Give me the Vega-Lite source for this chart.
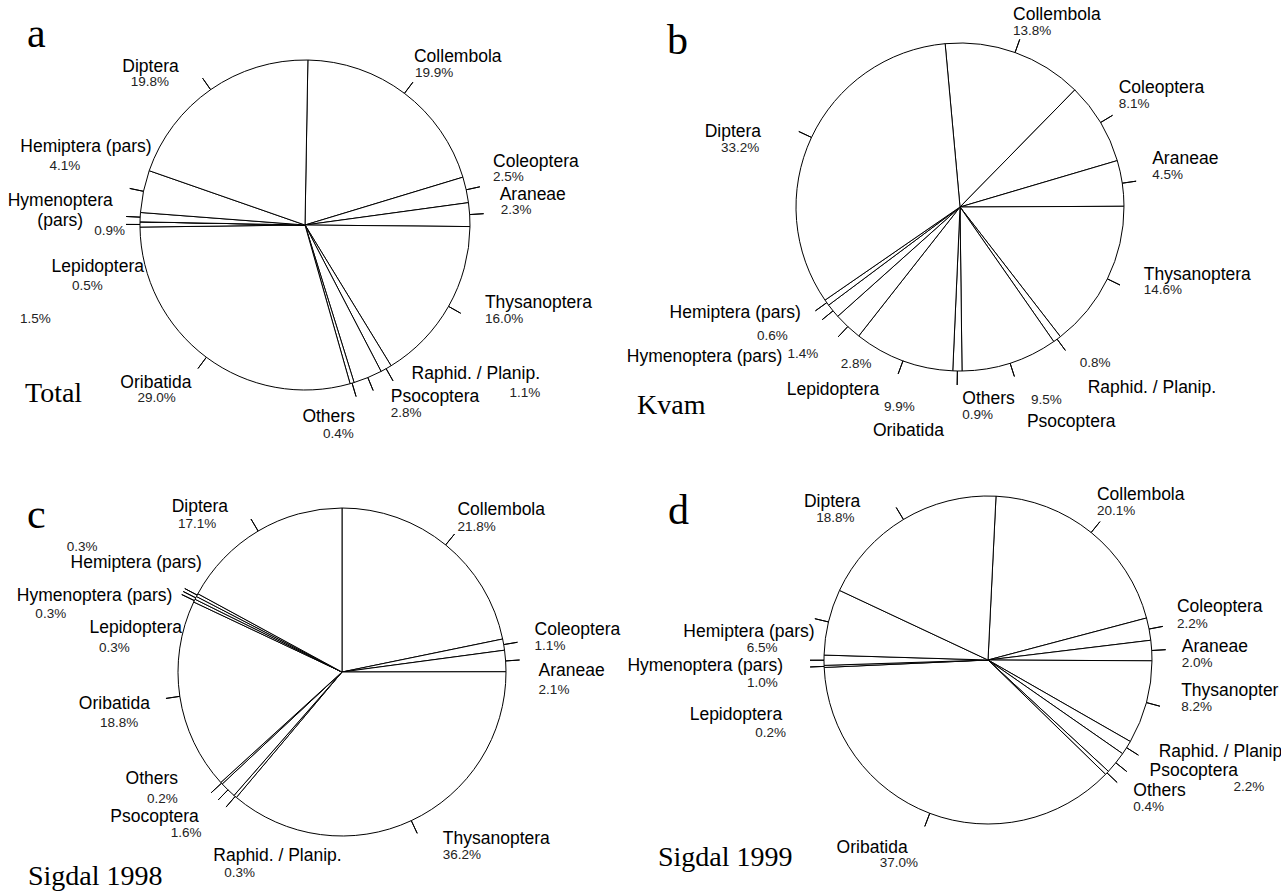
{
  "$schema": "https://vega.github.io/schema/vega-lite/v6.json",
  "padding": 0,
  "background": "white",
  "config": {"view": {"stroke": null}},
  "spacing": 2,
  "vconcat": [
    {
      "spacing": 16,
      "hconcat": [
        {
          "title": {"text": "Total", "orient": "bottom", "anchor": "start", "frame": "group", "offset": -70, "dx": 25, "font": "Liberation Serif", "fontSize": 28, "fontWeight": "normal", "color": "black"},
          "spacing": 0,
          "vconcat": [
            {
              "title": {"text": "a", "orient": "bottom", "anchor": "start", "frame": "group", "offset": -436, "dx": 27, "font": "Liberation Serif", "fontSize": 42, "fontWeight": "normal", "color": "black"},
              "width": 610,
              "height": 450,
              "data": {"values": [
                {"name": "Collembola", "value": 19.9, "pct": "19.9%", "ord": 0},
                {"name": "Coleoptera", "value": 2.5, "pct": "2.5%", "ord": 1},
                {"name": "Araneae", "value": 2.3, "pct": "2.3%", "ord": 2},
                {"name": "Thysanoptera", "value": 16.0, "pct": "16.0%", "ord": 3},
                {"name": "Raphid. / Planip.", "value": 1.1, "pct": "1.1%", "ord": 4},
                {"name": "Psocoptera", "value": 2.8, "pct": "2.8%", "ord": 5},
                {"name": "Others", "value": 0.4, "pct": "0.4%", "ord": 6},
                {"name": "Oribatida", "value": 29.0, "pct": "29.0%", "ord": 7},
                {"name": "Lepidoptera", "value": 0.5, "pct": "0.5%", "ord": 8},
                {"name": "", "value": 0, "pct": "1.5%", "ord": 9},
                {"name": "Hymenoptera (pars)", "value": 0.9, "pct": "0.9%", "ord": 10},
                {"name": "Hemiptera (pars)", "value": 4.1, "pct": "4.1%", "ord": 11},
                {"name": "Diptera", "value": 19.8, "pct": "19.8%", "ord": 12}
              ]},
              "encoding": {
                "theta": {"field": "value", "type": "quantitative", "stack": true, "scale": {"range": [0.01745, 6.30064]}},
                "order": {"field": "ord", "type": "quantitative"},
                "detail": {"field": "name", "type": "nominal"}
              },
              "layer": [
                {"mark": {"type": "arc", "outerRadius": 165, "fill": "white", "stroke": "black", "strokeWidth": 1}},
                {"mark": {"type": "arc", "outerRadius": 179, "innerRadius": 165, "padAngle": 3.14, "fill": "transparent", "stroke": "black", "strokeWidth": 1, "strokeOpacity": {"expr": "datum.name == '' ? 0 : 1"}}},
                {"mark": {"type": "text", "radius": 170, "font": "Liberation Sans", "fontSize": 17.5, "color": "black", "baseline": "alphabetic", "lineHeight": 20,
                  "lineBreak": {"expr": "datum.ord == 10 ? ' ' : '\\n'"},
                  "align": {"expr": "['left','left','left','left','left','left','right','right','right','left','center','right','right'][datum.ord]"},
                  "dx": {"expr": "[6.5,22,25,32,23,21,1.4,-12,9,0,-75,13,-29][datum.ord]"},
                  "dy": {"expr": "[-27.5,-22,-14,-1,6,20,34,27,48,0,-11,-38,-14][datum.ord]"}},
                 "encoding": {"text": {"field": "name"}}},
                {"mark": {"type": "text", "radius": 170, "font": "Liberation Sans", "fontSize": 13.5, "color": "#222", "baseline": "alphabetic", "align": "left",
                  "dx": {"expr": "[7.5,22,26,32,121,21,-30.6,-66,-63,-115,-41,-89,-77][datum.ord]"},
                  "dy": {"expr": "[-12.5,-8,0,14,24,35,50,41,66,101,18,-20,0][datum.ord]"}},
                 "encoding": {"text": {"field": "pct"}}}
              ]
            }
          ]
        },
        {
          "title": {"text": "Kvam", "orient": "bottom", "anchor": "start", "frame": "group", "offset": -48, "dx": -2, "font": "Liberation Serif", "fontSize": 28, "fontWeight": "normal", "color": "black"},
          "spacing": 0,
          "vconcat": [
            {
              "title": {"text": "b", "orient": "bottom", "anchor": "start", "frame": "group", "offset": -419, "dx": 28, "font": "Liberation Serif", "fontSize": 42, "fontWeight": "normal", "color": "black"},
              "width": 642,
              "height": 414,
              "data": {"values": [
                {"name": "Collembola", "value": 13.8, "pct": "13.8%", "ord": 0},
                {"name": "Coleoptera", "value": 8.1, "pct": "8.1%", "ord": 1},
                {"name": "Araneae", "value": 4.5, "pct": "4.5%", "ord": 2},
                {"name": "Thysanoptera", "value": 14.6, "pct": "14.6%", "ord": 3},
                {"name": "Raphid. / Planip.", "value": 0.8, "pct": "0.8%", "ord": 4},
                {"name": "Psocoptera", "value": 9.5, "pct": "9.5%", "ord": 5},
                {"name": "Others", "value": 0.9, "pct": "0.9%", "ord": 6},
                {"name": "Oribatida", "value": 9.9, "pct": "9.9%", "ord": 7},
                {"name": "Lepidoptera", "value": 2.8, "pct": "2.8%", "ord": 8},
                {"name": "Hymenoptera (pars)", "value": 1.4, "pct": "1.4%", "ord": 9},
                {"name": "Hemiptera (pars)", "value": 0.6, "pct": "0.6%", "ord": 10},
                {"name": "Diptera", "value": 33.2, "pct": "33.2%", "ord": 11}
              ]},
              "encoding": {
                "theta": {"field": "value", "type": "quantitative", "stack": true, "scale": {"range": [-0.09076, 6.19243]}},
                "order": {"field": "ord", "type": "quantitative"},
                "detail": {"field": "name", "type": "nominal"}
              },
              "layer": [
                {"mark": {"type": "arc", "outerRadius": 164, "fill": "white", "stroke": "black", "strokeWidth": 1}},
                {"mark": {"type": "arc", "outerRadius": 178, "innerRadius": 164, "padAngle": 3.14, "fill": "transparent", "stroke": "black", "strokeWidth": 1}},
                {"mark": {"type": "text", "radius": 170, "font": "Liberation Sans", "fontSize": 17.5, "color": "black", "baseline": "alphabetic",
                  "align": {"expr": "['left','left','left','left','left','left','left','left','left','right','right','right'][datum.ord]"},
                  "dx": {"expr": "[-4,13,24,31,27,15,5,-28,-57,-46,-21,-45][datum.ord]"},
                  "dy": {"expr": "[-27,-26,-18,-2,49,58,27,70,64,47,12,2][datum.ord]"}},
                 "encoding": {"text": {"field": "name"}}},
                {"mark": {"type": "text", "radius": 170, "font": "Liberation Sans", "fontSize": 13.5, "color": "#222", "baseline": "alphabetic", "align": "left",
                  "dx": {"expr": "[-4,13,24,31,19,19,5,-17,-3,-41,-65,-85][datum.ord]"},
                  "dy": {"expr": "[-12,-11,-3,12,23,35,42,45,37,43,34,17][datum.ord]"}},
                 "encoding": {"text": {"field": "pct"}}}
              ]
            }
          ]
        }
      ]
    },
    {
      "spacing": -57,
      "hconcat": [
        {
          "title": {"text": "Sigdal 1998", "orient": "bottom", "anchor": "start", "frame": "group", "offset": -29, "dx": 28, "font": "Liberation Serif", "fontSize": 28, "fontWeight": "normal", "color": "black"},
          "spacing": 0,
          "vconcat": [
            {
              "title": {"text": "c", "orient": "bottom", "anchor": "start", "frame": "group", "offset": -397, "dx": 27, "font": "Liberation Serif", "fontSize": 42, "fontWeight": "normal", "color": "black"},
              "width": 684,
              "height": 440,
              "data": {"values": [
                {"name": "Collembola", "value": 21.8, "pct": "21.8%", "ord": 0},
                {"name": "Coleoptera", "value": 1.1, "pct": "1.1%", "ord": 1},
                {"name": "Araneae", "value": 2.1, "pct": "2.1%", "ord": 2},
                {"name": "Thysanoptera", "value": 36.2, "pct": "36.2%", "ord": 3},
                {"name": "Raphid. / Planip.", "value": 0.3, "pct": "0.3%", "ord": 4},
                {"name": "Psocoptera", "value": 1.6, "pct": "1.6%", "ord": 5},
                {"name": "Others", "value": 0.2, "pct": "0.2%", "ord": 6},
                {"name": "Oribatida", "value": 18.8, "pct": "18.8%", "ord": 7},
                {"name": "Lepidoptera", "value": 0.3, "pct": "0.3%", "ord": 8},
                {"name": "Hymenoptera (pars)", "value": 0.3, "pct": "0.3%", "ord": 9},
                {"name": "Hemiptera (pars)", "value": 0.3, "pct": "0.3%", "ord": 10},
                {"name": "Diptera", "value": 17.1, "pct": "17.1%", "ord": 11}
              ]},
              "encoding": {
                "theta": {"field": "value", "type": "quantitative", "stack": true, "scale": {"range": [0, 6.28319]}},
                "order": {"field": "ord", "type": "quantitative"},
                "detail": {"field": "name", "type": "nominal"}
              },
              "layer": [
                {"mark": {"type": "arc", "outerRadius": 164, "fill": "white", "stroke": "black", "strokeWidth": 1}},
                {"mark": {"type": "arc", "outerRadius": 178, "innerRadius": 164, "padAngle": 3.14, "fill": "transparent", "stroke": "black", "strokeWidth": 1}},
                {"mark": {"type": "text", "radius": 170, "font": "Liberation Sans", "fontSize": 17.5, "color": "black", "baseline": "alphabetic",
                  "align": {"expr": "['left','left','left','left','left','right','right','right','right','right','right','right'][datum.ord]"},
                  "dx": {"expr": "[8,25,27,29,-18,-25,-39,-24,-7,-18,10,-27][datum.ord]"},
                  "dy": {"expr": "[-25,-9,15,18,60,28,-3,12,35,6,-24,-14][datum.ord]"}},
                 "encoding": {"text": {"field": "name"}}},
                {"mark": {"type": "text", "radius": 170, "font": "Liberation Sans", "fontSize": 13.5, "color": "#222", "baseline": "alphabetic", "align": "left",
                  "dx": {"expr": "[8,25,27,29,-7,-53,-70,-74,-90,-155,-125,-77][datum.ord]"},
                  "dy": {"expr": "[-9,6,33,33,76,43,16,30,54,23,-41,2][datum.ord]"}},
                 "encoding": {"text": {"field": "pct"}}}
              ]
            }
          ]
        },
        {
          "title": {"text": "Sigdal 1999", "orient": "bottom", "anchor": "start", "frame": "group", "offset": -25, "dx": -37, "font": "Liberation Serif", "fontSize": 28, "fontWeight": "normal", "color": "black"},
          "spacing": 0,
          "vconcat": [
            {
              "title": {"text": "d", "orient": "bottom", "anchor": "start", "frame": "group", "offset": -378, "dx": -27, "font": "Liberation Serif", "fontSize": 42, "fontWeight": "normal", "color": "black"},
              "width": 586,
              "height": 416,
              "data": {"values": [
                {"name": "Collembola", "value": 20.1, "pct": "20.1%", "ord": 0},
                {"name": "Coleoptera", "value": 2.2, "pct": "2.2%", "ord": 1},
                {"name": "Araneae", "value": 2.0, "pct": "2.0%", "ord": 2},
                {"name": "Thysanoptera", "value": 8.2, "pct": "8.2%", "ord": 3},
                {"name": "Raphid. / Planip.", "value": 1.4, "pct": "1.4%", "ord": 4},
                {"name": "Psocoptera", "value": 2.2, "pct": "2.2%", "ord": 5},
                {"name": "Others", "value": 0.4, "pct": "0.4%", "ord": 6},
                {"name": "Oribatida", "value": 37.0, "pct": "37.0%", "ord": 7},
                {"name": "Lepidoptera", "value": 0.2, "pct": "0.2%", "ord": 8},
                {"name": "Hymenoptera (pars)", "value": 1.0, "pct": "1.0%", "ord": 9},
                {"name": "Hemiptera (pars)", "value": 6.5, "pct": "6.5%", "ord": 10},
                {"name": "Diptera", "value": 18.8, "pct": "18.8%", "ord": 11}
              ]},
              "encoding": {
                "theta": {"field": "value", "type": "quantitative", "stack": true, "scale": {"range": [0.04887, 6.33206]}},
                "order": {"field": "ord", "type": "quantitative"},
                "detail": {"field": "name", "type": "nominal"}
              },
              "layer": [
                {"mark": {"type": "arc", "outerRadius": 164, "fill": "white", "stroke": "black", "strokeWidth": 1}},
                {"mark": {"type": "arc", "outerRadius": 178, "innerRadius": 164, "padAngle": 3.14, "fill": "transparent", "stroke": "black", "strokeWidth": 1}},
                {"mark": {"type": "text", "radius": 170, "font": "Liberation Sans", "fontSize": 17.5, "color": "black", "baseline": "alphabetic", "ellipsis": "\u200b",
                  "limit": {"expr": "datum.ord == 3 ? 102 : datum.ord == 4 ? 124 : 0"},
                  "align": {"expr": "['left','left','left','left','left','left','left','right','right','right','right','right'][datum.ord]"},
                  "dx": {"expr": "[2,22,24,29,27,29,22,-20,-36,-35,-8,-40][datum.ord]"},
                  "dy": {"expr": "[-28,-16,2,-8,6,9,19,34,53,11,16,-7][datum.ord]"}},
                 "encoding": {"text": {"field": "name"}}},
                {"mark": {"type": "text", "radius": 170, "font": "Liberation Sans", "fontSize": 13.5, "color": "#222", "baseline": "alphabetic", "align": "left",
                  "opacity": {"expr": "datum.ord == 4 ? 0 : 1"},
                  "dx": {"expr": "[2,22,24,29,60,113,22,-48,-63,-71,-76,-84][datum.ord]"},
                  "dy": {"expr": "[-13,0,17,7,22,24,34,48,70,27,31,8][datum.ord]"}},
                 "encoding": {"text": {"field": "pct"}}}
              ]
            }
          ]
        }
      ]
    }
  ]
}
